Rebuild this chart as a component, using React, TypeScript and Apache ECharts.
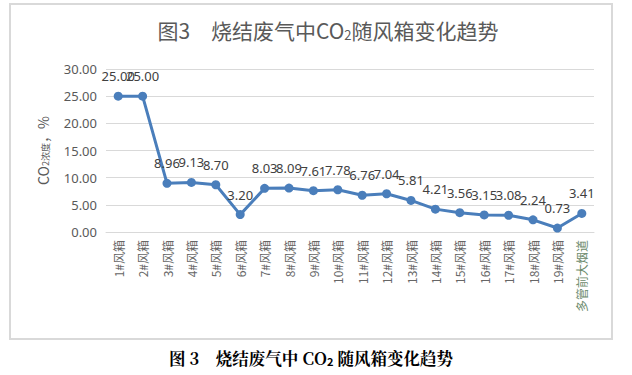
import React, { useEffect, useRef } from "react";
import * as echarts from "echarts";

const categories = [
  "1#风箱", "2#风箱", "3#风箱", "4#风箱", "5#风箱", "6#风箱", "7#风箱", "8#风箱", "9#风箱", "10#风箱",
  "11#风箱", "12#风箱", "13#风箱", "14#风箱", "15#风箱", "16#风箱", "17#风箱", "18#风箱", "19#风箱", "多管前大烟道",
];
const co2Values = [
  25.0, 25.0, 8.96, 9.13, 8.7, 3.2, 8.03, 8.09, 7.61, 7.78,
  6.76, 7.04, 5.81, 4.21, 3.56, 3.15, 3.08, 2.24, 0.73, 3.41,
];

const FONT = "'Noto Sans', 'Noto Sans CJK SC', sans-serif";
const CJK = "'Noto Sans CJK SC', sans-serif";

export default function App() {
  const ref = useRef<HTMLDivElement>(null);
  useEffect(() => {
    document.body.style.margin = "0";
    const chart = echarts.init(ref.current!, null, { renderer: "svg" });
    chart.setOption({
      animation: false,
      backgroundColor: "#ffffff",
      title: {
        text: "{a|图3　烧结废气中CO}{b|2}{a|随风箱变化趋势}",
        left: 323,
        textAlign: "center",
        top: 13,
        textStyle: {
          fontWeight: "normal",
          rich: {
            a: { fontSize: 21, color: "#595959", fontFamily: CJK, fontWeight: "normal" },
            b: { fontSize: 13, color: "#595959", fontFamily: CJK, fontWeight: "normal", padding: [10, 0, 0, 0] },
          },
        },
      },
      grid: { left: 106, right: 38, top: 69, bottom: 143 },
      xAxis: {
        type: "category",
        data: categories,
        boundaryGap: true,
        axisLine: { show: true, lineStyle: { color: "#d9d9d9", width: 1 } },
        axisTick: { show: false },
        axisLabel: {
          rotate: 90,
          interval: 0,
          color: (v: string) => (v === "多管前大烟道" ? "#6b8a6b" : "#666666"),
          fontSize: 12,
          fontFamily: CJK,
          margin: 8,
        },
      },
      yAxis: {
        type: "value",
        min: 0,
        max: 30,
        interval: 5,
        name: "{a|CO}{b|2浓度}{a|，%}",
        nameLocation: "middle",
        nameGap: 56,
        nameRotate: 90,
        nameTextStyle: {
          rich: {
            a: { fontSize: 14, color: "#595959", fontFamily: CJK },
            b: { fontSize: 9, color: "#595959", fontFamily: CJK, padding: [6, 0, 0, 0] },
          },
        },
        axisLine: { show: false },
        axisTick: { show: false },
        splitLine: { lineStyle: { color: "#d9d9d9", width: 1 } },
        axisLabel: {
          color: "#595959",
          fontSize: 13,
          fontFamily: FONT,
          margin: 9,
          formatter: (v: number) => v.toFixed(2),
        },
      },
      series: [
        {
          type: "line",
          data: co2Values,
          symbol: "circle",
          symbolSize: 9,
          lineStyle: { color: "#4a7ebb", width: 3 },
          itemStyle: { color: "#4a7ebb" },
          label: {
            show: true,
            position: "top",
            distance: 9,
            color: "#404040",
            fontSize: 13,
            fontFamily: FONT,
            formatter: (p: any) => p.value.toFixed(2),
          },
        },
      ],
      graphic: [
        {
          type: "rect",
          shape: { x: 10, y: 4, width: 602, height: 335 },
          style: { fill: "none", stroke: "#d9d9d9", lineWidth: 2 },
          silent: true,
        },
        {
          type: "text",
          x: 311,
          y: 358,
          style: {
            text: "{a|图 3　烧结废气中 CO}{b|2}{a| 随风箱变化趋势}",
            align: "center",
            verticalAlign: "middle",
            rich: {
              a: { fontSize: 16.5, fontWeight: "bold", fill: "#000000", fontFamily: "'Noto Serif CJK SC', 'Noto Sans CJK SC', serif" },
              b: { fontSize: 11, fontWeight: "bold", fill: "#000000", fontFamily: "'Noto Sans CJK SC', serif", padding: [6, 0, 0, 0] },
            },
          },
        },
      ],
    });
    return () => chart.dispose();
  }, []);
  return <div ref={ref} style={{ position: "absolute", left: 0, top: 0, width: 632, height: 375 }} />;
}
